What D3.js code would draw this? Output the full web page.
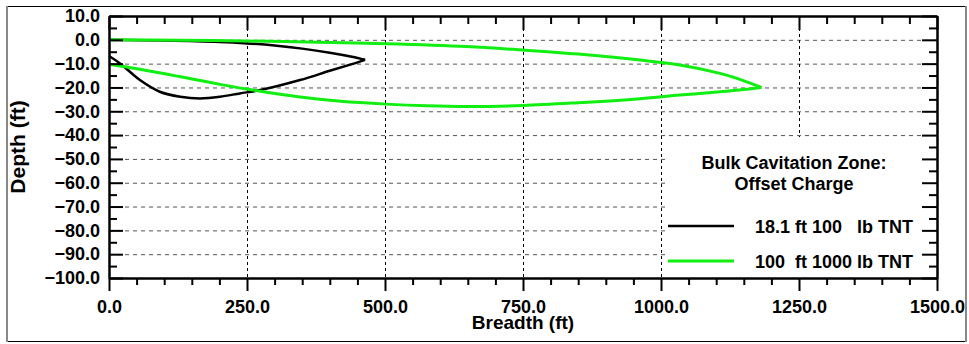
<!DOCTYPE html>
<html>
<head>
<meta charset="utf-8">
<script src="https://cdn.jsdelivr.net/npm/d3@7/dist/d3.min.js"></script>
<style>
  body { margin: 0; background: #fff; }
  text { font-family: "Liberation Sans", Arial, sans-serif; font-weight: bold; fill: #000; }
</style>
</head>
<body>
<svg id="chart" width="969" height="344"></svg>
<script>
// Axis ticks
const xMajor = [0, 250, 500, 750, 1000, 1250, 1500];
const yMajor = [10, 0, -10, -20, -30, -40, -50, -60, -70, -80, -90, -100];
const xGrid = [250, 500, 750, 1000, 1250];
const yGrid = [0, -10, -20, -30, -40, -50, -60, -70, -80, -90];

// Bulk cavitation envelope, 18.1 ft / 100 lb TNT: upper and lower boundaries (breadth ft, depth ft)
const smallUpper = [[0, 0], [100, -0.3], [200, -0.9], [250, -1.5], [300, -2.4], [350, -3.7], [400, -5.4], [440, -7.1], [464, -8.4]];
const smallLower = [[0, -6.8], [20, -9.9], [56, -16.9], [92, -21.8], [129, -23.9], [165, -24.6], [201, -23.9], [237, -22.5], [274, -21.1], [346, -16.9], [400, -13.0], [440, -10.2], [464, -8.4]];

// Bulk cavitation envelope, 100 ft / 1000 lb TNT
const largeUpper = [[0, 0], [129, -0.2], [250, -0.5], [379, -1.0], [502, -1.6], [648, -2.8], [750, -4.3], [850, -6.0], [962, -8.5], [1034, -10.6], [1107, -14.1], [1143, -16.6], [1182, -20.0]];
const largeLower = [[0, -10.3], [56, -12.4], [129, -15.5], [201, -18.7], [274, -21.6], [346, -24.0], [420, -25.8], [502, -27.0], [575, -27.7], [648, -28.0], [750, -27.6], [850, -26.4], [962, -24.7], [1034, -23.2], [1107, -21.8], [1155, -20.8], [1182, -20.0]];

const seriesNames = ["18.1 ft 100   lb TNT", "100  ft 1000 lb TNT"];
const seriesColors = ["#000000", "#11ee11"];
const legendTitle = ["Bulk Cavitation Zone:", "Offset Charge"];

const svg = d3.select("#chart");
const m = { left: 109, right: 937, top: 16, bottom: 278 };

const x = d3.scaleLinear().domain([0, 1500]).range([m.left, m.right]);
const y = d3.scaleLinear().domain([-100, 10]).range([m.bottom, m.top]);

// outer frame
svg.append("rect").attr("x", 7.5).attr("y", 6.5).attr("width", 958).attr("height", 335)
  .attr("fill", "#fff").attr("stroke", "#000").attr("stroke-width", 1);
svg.append("line").attr("x1", 7).attr("x2", 7).attr("y1", 6).attr("y2", 342).attr("stroke", "#888").attr("stroke-width", 2);
svg.append("line").attr("x1", 966).attr("x2", 966).attr("y1", 6).attr("y2", 342).attr("stroke", "#888").attr("stroke-width", 2);

// grid
const grid = svg.append("g");
grid.selectAll("line.h").data(yGrid).join("line").attr("class", "h")
  .attr("x1", m.left).attr("x2", m.right).attr("y1", d => y(d) + 0.5).attr("y2", d => y(d) + 0.5)
  .attr("stroke", "#555").attr("stroke-width", 1).attr("stroke-dasharray", "4,4");
grid.selectAll("line.v").data(xGrid).join("line").attr("class", "v")
  .attr("y1", m.top).attr("y2", m.bottom).attr("x1", d => x(d) + 0.5).attr("x2", d => x(d) + 0.5)
  .attr("stroke", "#000").attr("stroke-width", 1).attr("stroke-dasharray", "3,3");

// legend background hides the grid behind it
const lg = { x: 667, y: 137 };
svg.append("rect").attr("x", lg.x).attr("y", lg.y).attr("width", m.right - lg.x).attr("height", m.bottom - lg.y).attr("fill", "#fff");

// envelopes
const line = d3.line().x(d => x(d[0])).y(d => y(d[1])).curve(d3.curveCatmullRom.alpha(0.5));
const curves = svg.append("g").attr("fill", "none").attr("stroke-linejoin", "round");
[[smallUpper, smallLower], [largeUpper, largeLower]].forEach((pair, i) => {
  pair.forEach(pts => {
    curves.append("path").attr("d", line(pts))
      .attr("stroke", seriesColors[i]).attr("stroke-width", i === 0 ? 2.5 : 3);
  });
});

// axes
const fmt = d3.format(".1f");
const xMinor = d3.range(0, 1501, 50).filter(v => !xMajor.includes(v));
const yMinor = d3.range(-95, 10, 10);

function styleAxis(g) {
  g.select(".domain").attr("stroke-width", 2);
  g.selectAll(".tick line").attr("stroke-width", 2);
  g.selectAll("text").style("font-size", "18px").style("font-family", "'Liberation Sans', Arial, sans-serif").style("font-weight", "bold");
}

// bottom
svg.append("g").attr("transform", `translate(0,${m.bottom})`)
  .call(d3.axisBottom(x).tickValues(xMajor).tickFormat(fmt).tickSizeInner(13).tickSizeOuter(0).tickPadding(9))
  .call(styleAxis);
svg.append("g").attr("transform", `translate(0,${m.bottom})`)
  .call(d3.axisBottom(x).tickValues(xMinor).tickFormat("").tickSizeInner(7).tickSizeOuter(0))
  .call(styleAxis);
// top
svg.append("g").attr("transform", `translate(0,${m.top})`)
  .call(d3.axisTop(x).tickValues(xMajor).tickFormat("").tickSizeInner(-14).tickSizeOuter(0))
  .call(styleAxis);
svg.append("g").attr("transform", `translate(0,${m.top})`)
  .call(d3.axisTop(x).tickValues(xMinor).tickFormat("").tickSizeInner(-8).tickSizeOuter(0))
  .call(styleAxis);
// left
svg.append("g").attr("transform", `translate(${m.left},0)`)
  .call(d3.axisLeft(y).tickValues(yMajor).tickFormat(fmt).tickSizeInner(-14).tickSizeOuter(0).tickPadding(9))
  .call(styleAxis);
svg.append("g").attr("transform", `translate(${m.left},0)`)
  .call(d3.axisLeft(y).tickValues(yMinor).tickFormat("").tickSizeInner(-8).tickSizeOuter(0))
  .call(styleAxis);
// right
svg.append("g").attr("transform", `translate(${m.right},0)`)
  .call(d3.axisRight(y).tickValues(yMajor).tickFormat("").tickSizeInner(-15).tickSizeOuter(0))
  .call(styleAxis);
svg.append("g").attr("transform", `translate(${m.right},0)`)
  .call(d3.axisRight(y).tickValues(yMinor).tickFormat("").tickSizeInner(-8).tickSizeOuter(0))
  .call(styleAxis);

// axis titles
svg.append("text").attr("x", (m.left + m.right) / 2).attr("y", 329)
  .attr("text-anchor", "middle").style("font-size", "19px").text("Breadth (ft)");
svg.append("text").attr("transform", `translate(25,${(m.top + m.bottom) / 2}) rotate(-90)`)
  .attr("text-anchor", "middle").style("font-size", "21px").text("Depth (ft)");

// legend
legendTitle.forEach((t, i) => {
  svg.append("text").attr("x", 794).attr("y", 169 + i * 21).attr("text-anchor", "middle")
    .style("font-size", "18px").text(t);
});
seriesNames.forEach((name, i) => {
  const yy = 226 + i * 35;
  svg.append("line").attr("x1", 668).attr("x2", 734).attr("y1", yy).attr("y2", yy)
    .attr("stroke", seriesColors[i]).attr("stroke-width", i === 0 ? 2.5 : 3);
  svg.append("text").attr("x", 755).attr("y", yy + 6.5)
    .attr("xml:space", "preserve").style("white-space", "pre").style("font-size", "18px").text(name);
});
</script>
</body>
</html>
